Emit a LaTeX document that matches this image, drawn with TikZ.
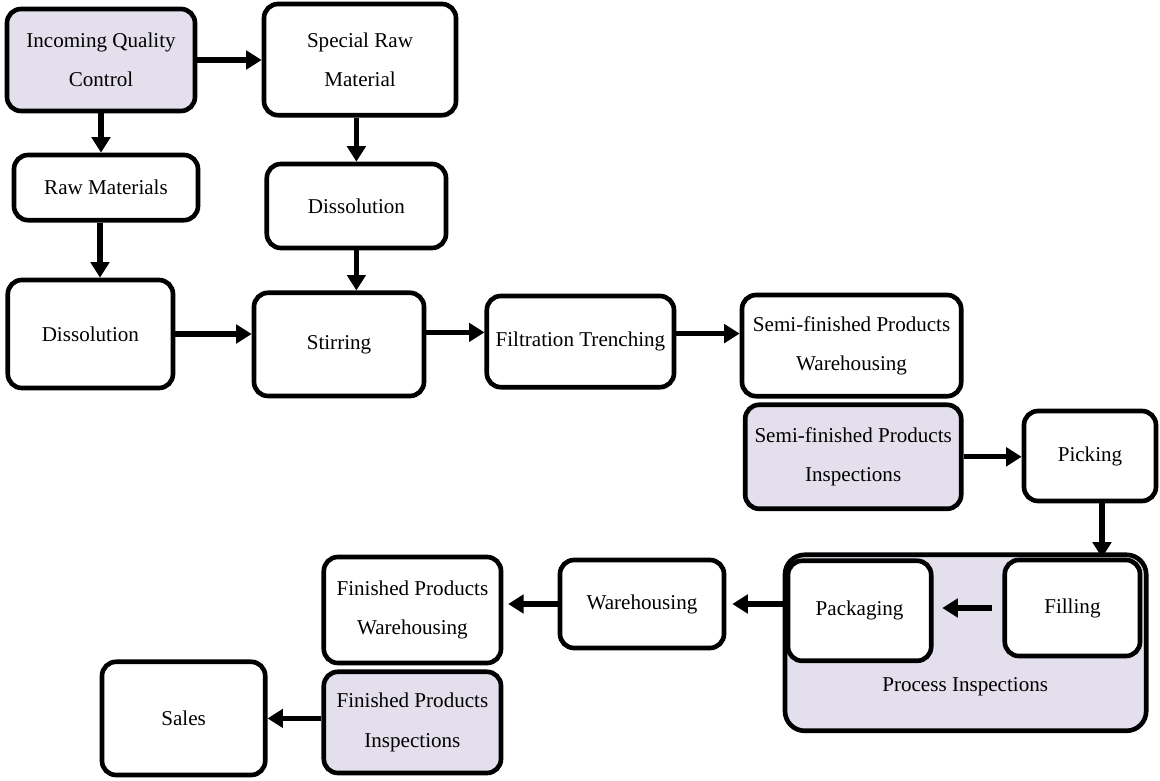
\documentclass[tikz,border=0pt]{standalone}
\usepackage{fontspec}
\setmainfont{Liberation Serif}
\usetikzlibrary{arrows.meta, positioning, calc}
\definecolor{c1}{HTML}{000000}
\definecolor{c2}{HTML}{E4DFEC}

\begin{document}
\begin{tikzpicture}[
    every node/.style={font=\fontsize{15}{28}\selectfont},
    box/.style={rectangle, rounded corners=10pt, draw=c1, fill=white, line width=3.3pt, align=center, inner sep=0pt},
    shade/.style={box, fill=c2},
    arr/.style={c1, line width=3.8pt, -{Triangle[length=11pt, width=13pt]}},
]
\useasboundingbox (0, 0) rectangle (29, 19.5);

% ============================================================ raw material intake
\node[shade, minimum width=4.70cm, minimum height=2.55cm] (iqc) at (2.525, 18.00) {Incoming Quality\\Control};
\node[box, minimum width=4.80cm, minimum height=2.78cm] (srm) at (9.00, 18.01) {Special Raw\\Material};
\node[box, minimum width=4.60cm, minimum height=1.63cm] (rm) at (2.65, 14.81) {Raw Materials};
\node[box, minimum width=4.48cm, minimum height=2.10cm] (dissB) at (8.91, 14.35) {Dissolution};
\node[box, minimum width=4.13cm, minimum height=2.70cm] (dissA) at (2.26, 11.15) {Dissolution};

% ============================================================ semi-finished line
\node[box, minimum width=4.25cm, minimum height=2.58cm] (stir) at (8.475, 10.89) {Stirring};
\node[box, minimum width=4.68cm, minimum height=2.28cm] (filt) at (14.51, 10.96) {Filtration Trenching};
\node[box, minimum width=5.48cm, minimum height=2.53cm] (sfpw) at (21.29, 10.86) {Semi-finished Products\\Warehousing};
\node[shade, minimum width=5.40cm, minimum height=2.60cm] (sfpi) at (21.33, 8.08) {Semi-finished Products\\Inspections};
\node[box, minimum width=3.30cm, minimum height=2.25cm] (pick) at (27.25, 8.10) {Picking};

% ============================================================ process inspections
\node[shade, rounded corners=14pt, minimum width=9.03cm, minimum height=4.40cm] (proc) at (24.14, 3.43) {};
\node (proclab) at (24.13, 2.33) {Process Inspections};
\node[box, minimum width=3.38cm, minimum height=2.40cm] (fill) at (26.81, 4.30) {Filling};
\node[box, minimum width=3.58cm, minimum height=2.50cm] (pack) at (21.49, 4.23) {Packaging};

% ============================================================ finished products
\node[box, minimum width=4.10cm, minimum height=2.20cm] (wh) at (16.05, 4.40) {Warehousing};
\node[box, minimum width=4.43cm, minimum height=2.65cm] (fpw) at (10.31, 4.25) {Finished Products\\Warehousing};
\node[shade, minimum width=4.43cm, minimum height=2.53cm] (fpi) at (10.31, 1.44) {Finished Products\\Inspections};
\node[box, minimum width=4.08cm, minimum height=2.83cm] (sales) at (4.59, 1.54) {Sales};

% connectors
\draw[arr] (iqc.east) -- (iqc.east -| srm.west);
\draw[arr] (iqc.south) -- (iqc.south |- rm.north);
\draw[arr] (dissB.north |- srm.south) -- (dissB.north);
\draw[arr] ([xshift=-0.15cm]rm.south) -- ([xshift=-0.15cm]rm.south |- dissA.north);
\draw[arr] (dissB.south) -- (dissB.south |- stir.north);
\draw[arr] (dissA.east) -- (dissA.east -| stir.west);
\draw[arr] ([yshift=0.3cm]stir.east) -- ([yshift=0.3cm]stir.east -| filt.west);
\draw[arr] ([yshift=0.2cm]filt.east) -- ([yshift=0.2cm]filt.east -| sfpw.west);
\draw[arr] (sfpi.east) -- (sfpi.east -| pick.west);
\draw[arr] ([xshift=0.3cm]pick.south) -- ([xshift=0.3cm]pick.south |- fill.north);
\draw[arr, shorten <=0.25cm, shorten >=0.22cm] (fill.west) -- (fill.west -| pack.east);
\draw[arr, shorten >=0.15cm] (wh.east -| proc.west) -- (wh.east);
\draw[arr, shorten >=0.12cm] (wh.west) -- (wh.west -| fpw.east);
\draw[arr] (sales.east -| fpi.west) -- (sales.east);

\end{tikzpicture}
\end{document}
